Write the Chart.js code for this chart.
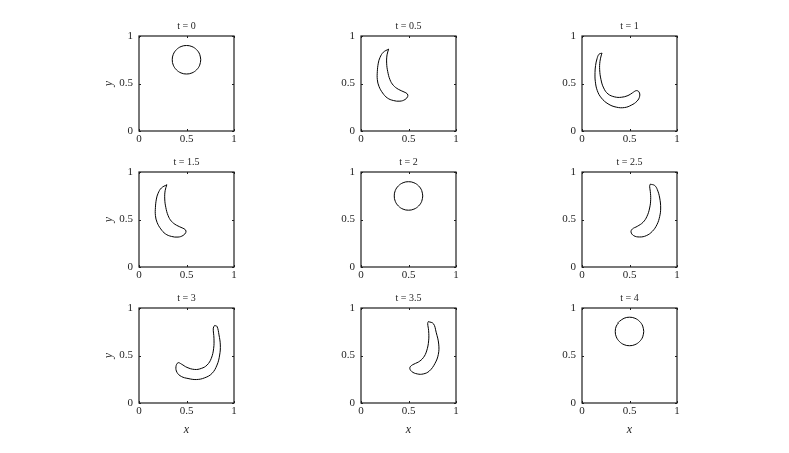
<!DOCTYPE html>
<html><head><meta charset="utf-8">
<script src="https://cdn.jsdelivr.net/npm/chart.js@4.4.1/dist/chart.umd.min.js"></script>
<style>
html,body{margin:0;padding:0;background:#fff;}
body{width:789px;height:453px;overflow:hidden;position:relative;}
canvas{position:absolute;}
</style></head><body>
<script>
// ---- data ----
const titles = ['t = 0', 't = 0.5', 't = 1', 't = 1.5', 't = 2', 't = 2.5', 't = 3', 't = 3.5', 't = 4'];
const tickValues = [0, 0.5, 1];
const tickLabels = ['0', '0.5', '1'];
const xLabel = 'x';
const yLabel = 'y';

const curveT0 = [[0.65,0.75],[0.639,0.807],[0.606,0.856],[0.557,0.889],[0.5,0.9],[0.443,0.889],[0.394,0.856],[0.361,0.807],[0.35,0.75],[0.361,0.693],[0.394,0.644],[0.443,0.611],[0.5,0.6],[0.557,0.611],[0.606,0.644],[0.639,0.693],[0.65,0.75]];
const curveT05 = [[0.291,0.862],[0.235,0.829],[0.2,0.774],[0.182,0.714],[0.172,0.627],[0.172,0.54],[0.189,0.47],[0.228,0.4],[0.277,0.348],[0.34,0.321],[0.41,0.314],[0.463,0.331],[0.491,0.362],[0.488,0.39],[0.453,0.411],[0.393,0.439],[0.34,0.481],[0.305,0.54],[0.281,0.627],[0.27,0.714],[0.274,0.801],[0.291,0.862]];
const curveT1 = [[0.211,0.82],[0.179,0.808],[0.158,0.76],[0.143,0.69],[0.137,0.615],[0.14,0.523],[0.161,0.425],[0.204,0.348],[0.274,0.286],[0.361,0.251],[0.449,0.247],[0.519,0.272],[0.579,0.314],[0.607,0.366],[0.6,0.411],[0.572,0.425],[0.53,0.401],[0.484,0.373],[0.414,0.355],[0.344,0.359],[0.274,0.39],[0.228,0.453],[0.2,0.54],[0.186,0.645],[0.189,0.732],[0.204,0.801],[0.211,0.82]];
const curveT15 = [[0.293,0.866],[0.236,0.832],[0.201,0.776],[0.183,0.715],[0.173,0.628],[0.173,0.541],[0.19,0.47],[0.229,0.401],[0.278,0.349],[0.341,0.322],[0.411,0.315],[0.464,0.332],[0.493,0.364],[0.489,0.391],[0.454,0.412],[0.394,0.44],[0.341,0.482],[0.306,0.542],[0.282,0.628],[0.271,0.716],[0.275,0.803],[0.293,0.866]];
const curveT2 = [[0.65,0.748],[0.639,0.805],[0.606,0.854],[0.557,0.887],[0.5,0.898],[0.443,0.887],[0.394,0.854],[0.361,0.805],[0.35,0.748],[0.361,0.691],[0.394,0.642],[0.443,0.609],[0.5,0.598],[0.557,0.609],[0.606,0.642],[0.639,0.691],[0.65,0.748]];
const curveT25 = [[0.719,0.872],[0.765,0.858],[0.793,0.814],[0.818,0.726],[0.828,0.621],[0.818,0.533],[0.789,0.446],[0.74,0.375],[0.677,0.33],[0.607,0.316],[0.544,0.33],[0.516,0.368],[0.53,0.4],[0.582,0.428],[0.642,0.47],[0.684,0.533],[0.712,0.621],[0.723,0.709],[0.719,0.796],[0.712,0.85],[0.719,0.872]];
const curveT3 = [[0.796,0.816],[0.821,0.806],[0.842,0.717],[0.856,0.611],[0.849,0.505],[0.821,0.399],[0.768,0.311],[0.691,0.265],[0.604,0.247],[0.516,0.258],[0.446,0.279],[0.4,0.322],[0.389,0.382],[0.411,0.424],[0.446,0.41],[0.505,0.375],[0.586,0.353],[0.656,0.364],[0.716,0.399],[0.761,0.47],[0.786,0.576],[0.789,0.682],[0.782,0.788],[0.796,0.816]];
const curveT35 = [[0.709,0.857],[0.762,0.835],[0.791,0.745],[0.818,0.62],[0.814,0.512],[0.779,0.417],[0.719,0.336],[0.656,0.306],[0.593,0.306],[0.533,0.332],[0.514,0.371],[0.544,0.403],[0.604,0.431],[0.656,0.477],[0.691,0.548],[0.712,0.654],[0.712,0.761],[0.702,0.838],[0.709,0.857]];
const curveT4 = [[0.65,0.753],[0.639,0.81],[0.606,0.859],[0.557,0.892],[0.5,0.903],[0.443,0.892],[0.394,0.859],[0.378,0.846],[0.383,0.842],[0.361,0.81],[0.35,0.753],[0.361,0.696],[0.394,0.647],[0.443,0.614],[0.5,0.603],[0.557,0.614],[0.606,0.647],[0.639,0.696],[0.65,0.753]];
const curves = [curveT0, curveT05, curveT1, curveT15, curveT2, curveT25, curveT3, curveT35, curveT4];

// ---- layout ----
const colLefts = [139, 361, 582];
const rowTops = [36, 172, 308];
const PLOT = 95, LW = 40, TH = 20;
const FONT = "'Liberation Serif', 'DejaVu Serif', serif";
const INK = '#1e1e1e';

const boxPlugin = {
  id: 'box',
  afterDraw(chart) {
    const {ctx, chartArea: a, scales: {x, y}} = chart;
    ctx.save();
    ctx.strokeStyle = INK;
    ctx.lineWidth = 1.2;
    ctx.strokeRect(a.left, a.top, a.right - a.left, a.bottom - a.top);
    ctx.lineWidth = 1;
    ctx.beginPath();
    tickValues.forEach(v => {
      const px = Math.round(x.getPixelForValue(v)) + 0.5;
      ctx.moveTo(px, a.bottom); ctx.lineTo(px, a.bottom - 2);
      ctx.moveTo(px, a.top); ctx.lineTo(px, a.top + 2);
      const py = Math.round(y.getPixelForValue(v)) + 0.5;
      ctx.moveTo(a.left, py); ctx.lineTo(a.left + 2, py);
      ctx.moveTo(a.right, py); ctx.lineTo(a.right - 2, py);
    });
    ctx.stroke();
    ctx.restore();
  }
};

curves.forEach((curve, i) => {
  const r = Math.floor(i / 3), c = i % 3;
  const bh = r === 2 ? 40 : 20;
  const cv = document.createElement('canvas');
  cv.width = LW * 2 + PLOT;
  cv.height = TH + PLOT + bh;
  cv.style.left = (colLefts[c] - LW) + 'px';
  cv.style.top = (rowTops[r] - TH) + 'px';
  cv.style.width = cv.width + 'px';
  cv.style.height = cv.height + 'px';
  document.body.appendChild(cv);
  new Chart(cv, {
    type: 'scatter',
    data: {
      datasets: [{
        data: curve.map(p => ({x: p[0], y: p[1]})),
        showLine: true,
        borderColor: '#000',
        borderWidth: 1,
        pointRadius: 0,
        tension: 0.4,
        fill: false
      }]
    },
    options: {
      responsive: false,
      animation: false,
      devicePixelRatio: 1,
      layout: {padding: 0},
      plugins: {
        legend: {display: false},
        tooltip: {enabled: false},
        title: {
          display: true, text: titles[i], color: INK,
          font: {family: FONT, size: 10, weight: 'normal', lineHeight: 1.2},
          padding: {top: 4, bottom: 4}
        }
      },
      scales: {
        x: {
          type: 'linear', min: 0, max: 1,
          afterBuildTicks: s => { s.ticks = tickValues.map(v => ({value: v})); },
          ticks: {padding: 2, color: INK, maxRotation: 0, autoSkip: false,
            font: {family: FONT, size: 11}, callback: v => tickLabels[tickValues.indexOf(v)]},
          grid: {display: false, drawTicks: false},
          border: {display: false},
          title: {display: r === 2, text: xLabel, color: INK,
            font: {family: FONT, size: 12, style: 'italic'}, padding: {top: 0, bottom: 6}},
          afterFit: s => { s.height = bh; }
        },
        y: {
          type: 'linear', min: 0, max: 1, position: 'left',
          afterBuildTicks: s => { s.ticks = tickValues.map(v => ({value: v})); },
          ticks: {padding: 6, color: INK, autoSkip: false,
            font: {family: FONT, size: 11}, callback: v => tickLabels[tickValues.indexOf(v)]},
          grid: {display: false, drawTicks: false},
          border: {display: false},
          title: {display: c === 0, text: yLabel, color: INK,
            font: {family: FONT, size: 12, style: 'italic'}, padding: {top: 3, bottom: 0}},
          afterFit: s => { s.width = LW; }
        },
        y2: {
          type: 'linear', min: 0, max: 1, position: 'right', display: true,
          ticks: {display: false}, grid: {display: false, drawTicks: false},
          border: {display: false},
          afterFit: s => { s.width = LW; }
        }
      }
    },
    plugins: [boxPlugin]
  });
});
</script>
</body></html>
